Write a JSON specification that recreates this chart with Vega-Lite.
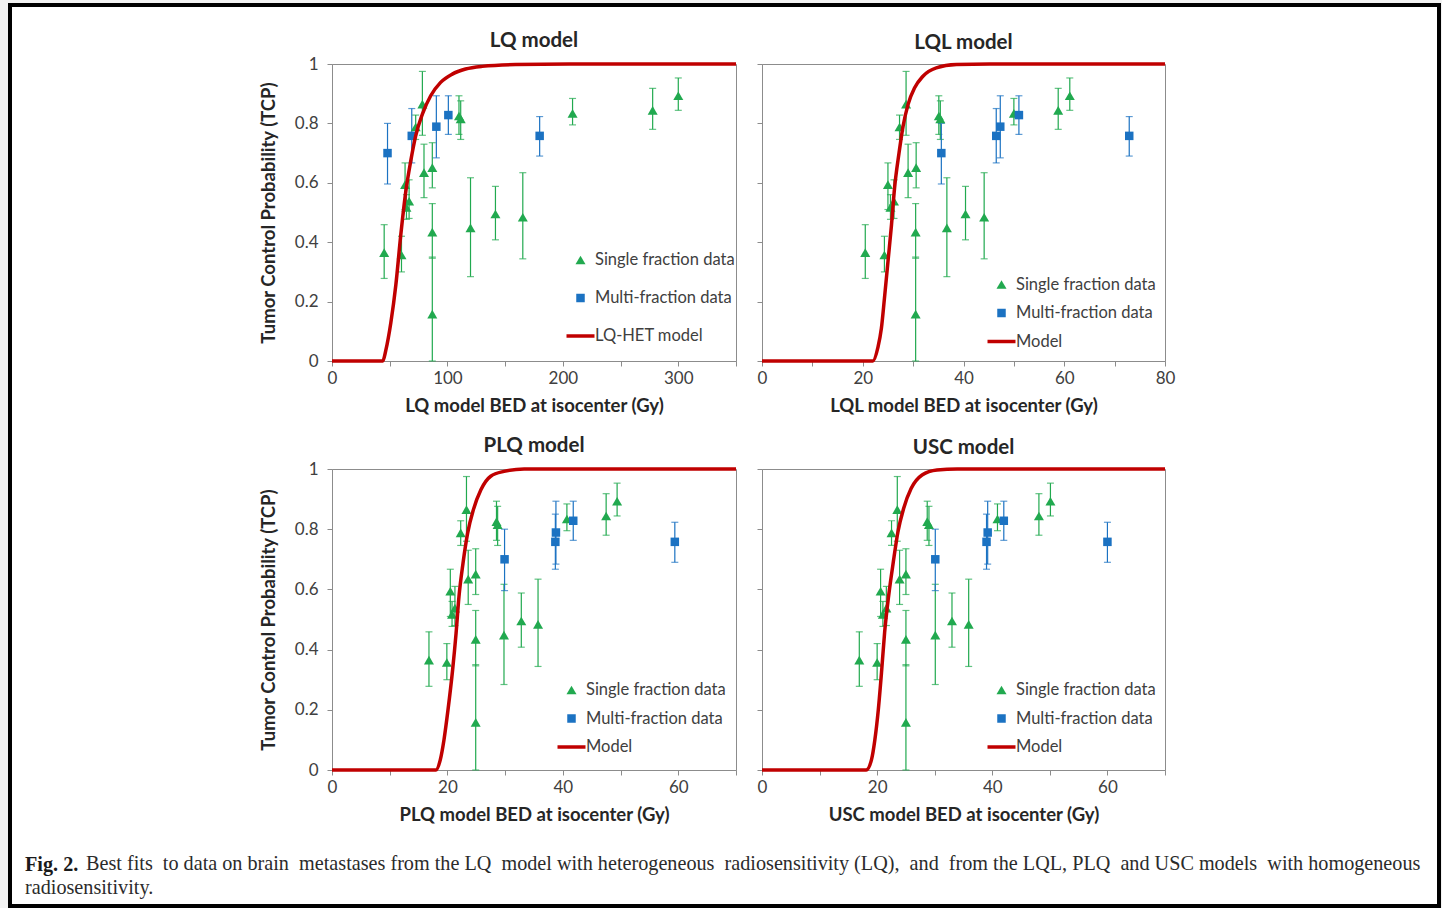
{
  "$schema": "https://vega.github.io/schema/vega-lite/v6.json",
  "autosize": {"type": "none"},
  "padding": {"left": 10, "top": 5, "right": 1432, "bottom": 903},
  "background": "#f2f2f2",
  "config": {
    "font": "Lato",
    "view": {"stroke": null},
    "axis": {"domainColor": "#8c8c8c", "tickColor": "#8c8c8c", "tickSize": 5, "grid": false, "labelFont": "Lato", "labelFontSize": 17, "labelColor": "#404040", "titleFont": "Lato", "titleFontSize": 18.5, "titleFontWeight": "bold", "titleColor": "#262626", "labelFlush": false, "labelOverlap": false},
    "axisX": {"labelPadding": 4, "titlePadding": 10},
    "axisY": {"labelPadding": 9, "titlePadding": 16},
    "title": {"font": "Lato", "fontSize": 20.5, "fontWeight": "bold", "color": "#262626", "offset": 4},
    "legend": {"padding": 0, "labelFont": "Lato", "labelFontSize": 16.5, "labelColor": "#404040", "labelOffset": 6.25, "symbolSize": 100, "symbolStrokeWidth": 0}
  },
  "datasets": {
    "pts": [
      {"type": "Single fraction data", "tcp": 0.365, "lo": 0.278, "hi": 0.459, "LQ": 45.2, "LQL": 20.5, "PLQ": 16.8, "USC": 16.9},
      {"type": "Single fraction data", "tcp": 0.357, "lo": 0.30, "hi": 0.42, "LQ": 60.2, "LQL": 24.3, "PLQ": 19.9, "USC": 20.0},
      {"type": "Single fraction data", "tcp": 0.594, "lo": 0.51, "hi": 0.667, "LQ": 63.3, "LQL": 25.0, "PLQ": 20.5, "USC": 20.6},
      {"type": "Single fraction data", "tcp": 0.517, "lo": 0.477, "hi": 0.56, "LQ": 64.5, "LQL": 25.5, "PLQ": 20.8, "USC": 21.0},
      {"type": "Single fraction data", "tcp": 0.538, "lo": 0.48, "hi": 0.61, "LQ": 66.8, "LQL": 26.2, "PLQ": 21.3, "USC": 21.6},
      {"type": "Single fraction data", "tcp": 0.788, "lo": 0.746, "hi": 0.828, "LQ": 72.5, "LQL": 27.3, "PLQ": 22.3, "USC": 22.5},
      {"type": "Single fraction data", "tcp": 0.865, "lo": 0.76, "hi": 0.975, "LQ": 78.3, "LQL": 28.6, "PLQ": 23.3, "USC": 23.5},
      {"type": "Single fraction data", "tcp": 0.634, "lo": 0.55, "hi": 0.73, "LQ": 79.7, "LQL": 29.0, "PLQ": 23.6, "USC": 23.9},
      {"type": "Single fraction data", "tcp": 0.651, "lo": 0.583, "hi": 0.735, "LQ": 86.9, "LQL": 30.6, "PLQ": 24.9, "USC": 25.0},
      {"type": "Single fraction data", "tcp": 0.434, "lo": 0.346, "hi": 0.53, "LQ": 86.9, "LQL": 30.5, "PLQ": 24.9, "USC": 25.0},
      {"type": "Single fraction data", "tcp": 0.158, "lo": 0, "hi": 0.35, "LQ": 86.9, "LQL": 30.5, "PLQ": 24.9, "USC": 25.0},
      {"type": "Single fraction data", "tcp": 0.825, "lo": 0.763, "hi": 0.893, "LQ": 110, "LQL": 35.1, "PLQ": 28.5, "USC": 28.7},
      {"type": "Single fraction data", "tcp": 0.815, "lo": 0.746, "hi": 0.876, "LQ": 111.5, "LQL": 35.4, "PLQ": 28.7, "USC": 29.0},
      {"type": "Single fraction data", "tcp": 0.448, "lo": 0.284, "hi": 0.617, "LQ": 120, "LQL": 36.7, "PLQ": 29.8, "USC": 30.1},
      {"type": "Single fraction data", "tcp": 0.495, "lo": 0.408, "hi": 0.588, "LQ": 141.6, "LQL": 40.4, "PLQ": 32.8, "USC": 33.0},
      {"type": "Single fraction data", "tcp": 0.484, "lo": 0.344, "hi": 0.634, "LQ": 165.3, "LQL": 44.1, "PLQ": 35.7, "USC": 35.9},
      {"type": "Single fraction data", "tcp": 0.834, "lo": 0.795, "hi": 0.884, "LQ": 208.4, "LQL": 50.0, "PLQ": 40.7, "USC": 40.9},
      {"type": "Single fraction data", "tcp": 0.844, "lo": 0.78, "hi": 0.918, "LQ": 277.8, "LQL": 58.8, "PLQ": 47.5, "USC": 48.1},
      {"type": "Single fraction data", "tcp": 0.893, "lo": 0.844, "hi": 0.953, "LQ": 300, "LQL": 61.1, "PLQ": 49.4, "USC": 50.1},
      {"type": "Multi-fraction data", "tcp": 0.70, "lo": 0.596, "hi": 0.80, "LQ": 48.1, "LQL": 35.6, "PLQ": 29.9, "USC": 30.1},
      {"type": "Multi-fraction data", "tcp": 0.758, "lo": 0.667, "hi": 0.85, "LQ": 69.1, "LQL": 46.5, "PLQ": 38.7, "USC": 39.0},
      {"type": "Multi-fraction data", "tcp": 0.789, "lo": 0.684, "hi": 0.893, "LQ": 90.4, "LQL": 47.3, "PLQ": 38.8, "USC": 39.2},
      {"type": "Multi-fraction data", "tcp": 0.828, "lo": 0.763, "hi": 0.893, "LQ": 100.8, "LQL": 51.0, "PLQ": 41.8, "USC": 42.0},
      {"type": "Multi-fraction data", "tcp": 0.758, "lo": 0.69, "hi": 0.823, "LQ": 179.9, "LQL": 72.9, "PLQ": 59.4, "USC": 60.0}
    ],
    "curves": [
      {"model": "LQ", "type": "LQ-HET model", "x": 0, "y": 0},
      {"model": "LQ", "type": "LQ-HET model", "x": 44, "y": 0},
      {"model": "LQ", "type": "LQ-HET model", "x": 46.6, "y": 0.036},
      {"model": "LQ", "type": "LQ-HET model", "x": 51, "y": 0.13},
      {"model": "LQ", "type": "LQ-HET model", "x": 55.3, "y": 0.256},
      {"model": "LQ", "type": "LQ-HET model", "x": 59.6, "y": 0.425},
      {"model": "LQ", "type": "LQ-HET model", "x": 63.9, "y": 0.57},
      {"model": "LQ", "type": "LQ-HET model", "x": 68.2, "y": 0.673},
      {"model": "LQ", "type": "LQ-HET model", "x": 72.5, "y": 0.758},
      {"model": "LQ", "type": "LQ-HET model", "x": 78.3, "y": 0.831},
      {"model": "LQ", "type": "LQ-HET model", "x": 85.5, "y": 0.893},
      {"model": "LQ", "type": "LQ-HET model", "x": 94.1, "y": 0.938},
      {"model": "LQ", "type": "LQ-HET model", "x": 104.2, "y": 0.966},
      {"model": "LQ", "type": "LQ-HET model", "x": 115.7, "y": 0.983},
      {"model": "LQ", "type": "LQ-HET model", "x": 130, "y": 0.992},
      {"model": "LQ", "type": "LQ-HET model", "x": 159, "y": 0.998},
      {"model": "LQ", "type": "LQ-HET model", "x": 216, "y": 1},
      {"model": "LQ", "type": "LQ-HET model", "x": 350, "y": 1},
      {"model": "LQL", "type": "Model", "x": 0, "y": 0},
      {"model": "LQL", "type": "Model", "x": 22, "y": 0},
      {"model": "LQL", "type": "Model", "x": 23, "y": 0.045},
      {"model": "LQL", "type": "Model", "x": 23.7, "y": 0.11},
      {"model": "LQL", "type": "Model", "x": 24.3, "y": 0.21},
      {"model": "LQL", "type": "Model", "x": 25, "y": 0.334},
      {"model": "LQL", "type": "Model", "x": 25.7, "y": 0.457},
      {"model": "LQL", "type": "Model", "x": 26.3, "y": 0.58},
      {"model": "LQL", "type": "Model", "x": 27.2, "y": 0.70},
      {"model": "LQL", "type": "Model", "x": 28, "y": 0.79},
      {"model": "LQL", "type": "Model", "x": 29, "y": 0.864},
      {"model": "LQL", "type": "Model", "x": 30.3, "y": 0.92},
      {"model": "LQL", "type": "Model", "x": 31.9, "y": 0.958},
      {"model": "LQL", "type": "Model", "x": 34.6, "y": 0.987},
      {"model": "LQL", "type": "Model", "x": 38.6, "y": 0.998},
      {"model": "LQL", "type": "Model", "x": 45.2, "y": 1},
      {"model": "LQL", "type": "Model", "x": 80, "y": 1},
      {"model": "PLQ", "type": "Model", "x": 0, "y": 0},
      {"model": "PLQ", "type": "Model", "x": 18, "y": 0},
      {"model": "PLQ", "type": "Model", "x": 18.75, "y": 0.033},
      {"model": "PLQ", "type": "Model", "x": 19.4, "y": 0.10},
      {"model": "PLQ", "type": "Model", "x": 20.1, "y": 0.20},
      {"model": "PLQ", "type": "Model", "x": 20.9, "y": 0.333},
      {"model": "PLQ", "type": "Model", "x": 21.5, "y": 0.455},
      {"model": "PLQ", "type": "Model", "x": 22, "y": 0.576},
      {"model": "PLQ", "type": "Model", "x": 22.7, "y": 0.687},
      {"model": "PLQ", "type": "Model", "x": 23.5, "y": 0.787},
      {"model": "PLQ", "type": "Model", "x": 24.5, "y": 0.865},
      {"model": "PLQ", "type": "Model", "x": 25.8, "y": 0.931},
      {"model": "PLQ", "type": "Model", "x": 27.5, "y": 0.976},
      {"model": "PLQ", "type": "Model", "x": 29.8, "y": 0.992},
      {"model": "PLQ", "type": "Model", "x": 33.3, "y": 1},
      {"model": "PLQ", "type": "Model", "x": 70, "y": 1},
      {"model": "USC", "type": "Model", "x": 0, "y": 0},
      {"model": "USC", "type": "Model", "x": 18.1, "y": 0},
      {"model": "USC", "type": "Model", "x": 19, "y": 0.033},
      {"model": "USC", "type": "Model", "x": 19.6, "y": 0.10},
      {"model": "USC", "type": "Model", "x": 20.2, "y": 0.20},
      {"model": "USC", "type": "Model", "x": 20.8, "y": 0.334},
      {"model": "USC", "type": "Model", "x": 21.3, "y": 0.457},
      {"model": "USC", "type": "Model", "x": 22, "y": 0.579},
      {"model": "USC", "type": "Model", "x": 22.8, "y": 0.69},
      {"model": "USC", "type": "Model", "x": 23.6, "y": 0.79},
      {"model": "USC", "type": "Model", "x": 24.6, "y": 0.869},
      {"model": "USC", "type": "Model", "x": 25.9, "y": 0.935},
      {"model": "USC", "type": "Model", "x": 27.8, "y": 0.98},
      {"model": "USC", "type": "Model", "x": 30.4, "y": 0.997},
      {"model": "USC", "type": "Model", "x": 33.9, "y": 1},
      {"model": "USC", "type": "Model", "x": 70, "y": 1}
    ]
  },
  "bounds": "flush",
  "spacing": 0,
  "hconcat": [
    {
      "bounds": "flush",
      "vconcat": [
        {
          "width": 1429,
          "height": 901,
          "view": {"stroke": "#000000", "strokeWidth": 4, "fill": "#ffffff"},
          "data": {"values": [{}]},
          "mark": {"type": "text", "text": ""},
          "title": {
            "text": "Fig. 2.",
            "subtitle": "radiosensitivity.",
            "orient": "bottom",
            "anchor": "start",
            "frame": "group",
            "offset": -51,
            "dx": 15,
            "font": "Liberation Serif",
            "fontSize": 20.2,
            "fontWeight": "bold",
            "color": "#1a1a1a",
            "subtitleFont": "Liberation Serif",
            "subtitleFontSize": 20.2,
            "subtitleFontWeight": "normal",
            "subtitleColor": "#2b2b2b",
            "subtitlePadding": 2.3
          }
        }
      ]
    },
    {
      "width": 322, "height": 1,
      "data": {"values": [{}]},
      "mark": {"type": "text", "text": ""},
      "view": {"stroke": null},
      "title": {
        "text": "Best fits \u00a0to data on brain \u00a0metastases from the LQ \u00a0model with heterogeneous \u00a0radiosensitivity (LQ), \u00a0and \u00a0from the LQL, PLQ \u00a0and USC models \u00a0with homogeneous",
        "orient": "bottom",
        "anchor": "start",
        "frame": "group",
        "offset": 843.5,
        "dx": 76,
        "font": "Liberation Serif",
        "fontSize": 20.2,
        "fontWeight": "normal",
        "color": "#2b2b2b"
      }
    },
    {
      "bounds": "flush",
      "spacing": 58,
      "vconcat": [
        {"width": 1, "height": 1, "data": {"values": [{}]}, "mark": {"type": "text", "text": ""}, "view": {"stroke": null}},
        {
          "bounds": "flush",
          "columns": 2,
          "spacing": {"row": 108, "column": 26},
          "resolve": {"scale": {"color": "independent", "shape": "independent"}, "legend": {"color": "independent", "shape": "independent"}},
          "concat": [
            {
              "width": 404, "height": 297,
              "title": "LQ model",
              "view": {"stroke": "#8c8c8c", "strokeWidth": 1},
              "layer": [
                {"data": {"name": "pts"}, "transform": [{"filter": "datum.type === 'Single fraction data'"}],
                 "mark": {"type": "errorbar", "ticks": true, "color": "#21a94f", "thickness": 1.2, "size": 7},
                 "encoding": {
                   "x": {"field": "LQ", "type": "quantitative", "scale": {"domain": [0, 350], "nice": false}, "axis": {"title": "LQ model BED at isocenter (Gy)", "values": [0, 50, 100, 150, 200, 250, 300, 350], "labelExpr": "datum.value % 100 === 0 ? datum.label : ''"}},
                   "y": {"field": "lo", "type": "quantitative", "scale": {"domain": [0, 1], "nice": false}, "axis": {"title": "Tumor Control Probability (TCP)", "values": [0, 0.1, 0.2, 0.3, 0.4, 0.5, 0.6, 0.7, 0.8, 0.9, 1], "labelExpr": "round(datum.value * 10) % 2 === 0 ? format(datum.value, '.1~f') : ''"}},
                   "y2": {"field": "hi"}}},
                {"data": {"name": "pts"}, "transform": [{"filter": "datum.type === 'Multi-fraction data'"}],
                 "mark": {"type": "errorbar", "ticks": true, "color": "#1b72c2", "thickness": 1.2, "size": 7},
                 "encoding": {
                   "x": {"field": "LQ", "type": "quantitative", "axis": {"title": "LQ model BED at isocenter (Gy)", "values": [0, 50, 100, 150, 200, 250, 300, 350], "labelExpr": "datum.value % 100 === 0 ? datum.label : ''"}},
                   "y": {"field": "lo", "type": "quantitative", "axis": {"title": "Tumor Control Probability (TCP)", "values": [0, 0.1, 0.2, 0.3, 0.4, 0.5, 0.6, 0.7, 0.8, 0.9, 1], "labelExpr": "round(datum.value * 10) % 2 === 0 ? format(datum.value, '.1~f') : ''"}},
                   "y2": {"field": "hi"}}},
                {"data": {"name": "pts"}, "transform": [{"filter": "datum.type === 'Single fraction data'"}],
                 "mark": {"type": "point", "filled": true, "opacity": 1, "size": 100},
                 "encoding": {"x": {"field": "LQ", "type": "quantitative"}, "y": {"field": "tcp", "type": "quantitative"},
                   "color": {"field": "type", "type": "nominal", "scale": {"domain": ["Single fraction data", "Multi-fraction data", "LQ-HET model"], "range": ["#21a94f", "#1b72c2", "#c00000"]}, "legend": {"title": null, "orient": "none", "legendX": 240.25, "legendY": 187.75, "rowPadding": 21, "encode": {"symbols": {"update": {"fill": {"signal": "(datum.value === 'Single fraction data' ? '#21a94f' : datum.value === 'Multi-fraction data' ? '#1b72c2' : '#c00000')"}, "strokeWidth": {"value": 0}, "opacity": {"value": 1}}}}}},
                   "shape": {"field": "type", "type": "nominal", "scale": {"domain": ["Single fraction data", "Multi-fraction data", "LQ-HET model"], "range": ["triangle-up", "M-0.85,-0.85H0.85V0.85H-0.85Z", "M-2.8,-0.35H2.8V0.35H-2.8Z"]}, "legend": {"title": null, "orient": "none", "legendX": 240.25, "legendY": 187.75, "rowPadding": 21, "encode": {"symbols": {"update": {"fill": {"signal": "(datum.value === 'Single fraction data' ? '#21a94f' : datum.value === 'Multi-fraction data' ? '#1b72c2' : '#c00000')"}, "strokeWidth": {"value": 0}, "opacity": {"value": 1}}}}}}}},
                {"data": {"name": "pts"}, "transform": [{"filter": "datum.type === 'Multi-fraction data'"}],
                 "mark": {"type": "point", "filled": true, "opacity": 1, "size": 100},
                 "encoding": {"x": {"field": "LQ", "type": "quantitative"}, "y": {"field": "tcp", "type": "quantitative"},
                   "color": {"field": "type", "type": "nominal"},
                   "shape": {"field": "type", "type": "nominal"}}},
                {"data": {"name": "curves"}, "transform": [{"filter": "datum.model === 'LQ'"}],
                 "mark": {"type": "line", "strokeWidth": 3.5, "interpolate": "monotone"},
                 "encoding": {"x": {"field": "x", "type": "quantitative"}, "y": {"field": "y", "type": "quantitative"}, "color": {"field": "type", "type": "nominal"}}}
              ]
            },
            {
              "width": 403, "height": 297,
              "title": "LQL model",
              "view": {"stroke": "#8c8c8c", "strokeWidth": 1},
              "layer": [
                {"data": {"name": "pts"}, "transform": [{"filter": "datum.type === 'Single fraction data'"}],
                 "mark": {"type": "errorbar", "ticks": true, "color": "#21a94f", "thickness": 1.2, "size": 7},
                 "encoding": {
                   "x": {"field": "LQL", "type": "quantitative", "scale": {"domain": [0, 80], "nice": false}, "axis": {"title": "LQL model BED at isocenter (Gy)", "values": [0, 10, 20, 30, 40, 50, 60, 70, 80], "labelExpr": "datum.value % 20 === 0 ? datum.label : ''"}},
                   "y": {"field": "lo", "type": "quantitative", "scale": {"domain": [0, 1], "nice": false}, "axis": {"title": null, "values": [0, 0.1, 0.2, 0.3, 0.4, 0.5, 0.6, 0.7, 0.8, 0.9, 1], "labels": false}},
                   "y2": {"field": "hi"}}},
                {"data": {"name": "pts"}, "transform": [{"filter": "datum.type === 'Multi-fraction data'"}],
                 "mark": {"type": "errorbar", "ticks": true, "color": "#1b72c2", "thickness": 1.2, "size": 7},
                 "encoding": {
                   "x": {"field": "LQL", "type": "quantitative", "axis": {"title": "LQL model BED at isocenter (Gy)", "values": [0, 10, 20, 30, 40, 50, 60, 70, 80], "labelExpr": "datum.value % 20 === 0 ? datum.label : ''"}},
                   "y": {"field": "lo", "type": "quantitative", "axis": {"title": null, "values": [0, 0.1, 0.2, 0.3, 0.4, 0.5, 0.6, 0.7, 0.8, 0.9, 1], "labels": false}},
                   "y2": {"field": "hi"}}},
                {"data": {"name": "pts"}, "transform": [{"filter": "datum.type === 'Single fraction data'"}],
                 "mark": {"type": "point", "filled": true, "opacity": 1, "size": 100},
                 "encoding": {"x": {"field": "LQL", "type": "quantitative"}, "y": {"field": "tcp", "type": "quantitative"},
                   "color": {"field": "type", "type": "nominal", "scale": {"domain": ["Single fraction data", "Multi-fraction data", "Model"], "range": ["#21a94f", "#1b72c2", "#c00000"]}, "legend": {"title": null, "orient": "none", "legendX": 231.25, "legendY": 212.25, "rowPadding": 11.5, "encode": {"symbols": {"update": {"fill": {"signal": "(datum.value === 'Single fraction data' ? '#21a94f' : datum.value === 'Multi-fraction data' ? '#1b72c2' : '#c00000')"}, "strokeWidth": {"value": 0}, "opacity": {"value": 1}}}}}},
                   "shape": {"field": "type", "type": "nominal", "scale": {"domain": ["Single fraction data", "Multi-fraction data", "Model"], "range": ["triangle-up", "M-0.85,-0.85H0.85V0.85H-0.85Z", "M-2.8,-0.35H2.8V0.35H-2.8Z"]}, "legend": {"title": null, "orient": "none", "legendX": 231.25, "legendY": 212.25, "rowPadding": 11.5, "encode": {"symbols": {"update": {"fill": {"signal": "(datum.value === 'Single fraction data' ? '#21a94f' : datum.value === 'Multi-fraction data' ? '#1b72c2' : '#c00000')"}, "strokeWidth": {"value": 0}, "opacity": {"value": 1}}}}}}}},
                {"data": {"name": "pts"}, "transform": [{"filter": "datum.type === 'Multi-fraction data'"}],
                 "mark": {"type": "point", "filled": true, "opacity": 1, "size": 100},
                 "encoding": {"x": {"field": "LQL", "type": "quantitative"}, "y": {"field": "tcp", "type": "quantitative"},
                   "color": {"field": "type", "type": "nominal"},
                   "shape": {"field": "type", "type": "nominal"}}},
                {"data": {"name": "curves"}, "transform": [{"filter": "datum.model === 'LQL'"}],
                 "mark": {"type": "line", "strokeWidth": 3.5, "interpolate": "monotone"},
                 "encoding": {"x": {"field": "x", "type": "quantitative"}, "y": {"field": "y", "type": "quantitative"}, "color": {"field": "type", "type": "nominal"}}}
              ]
            },
            {
              "width": 404, "height": 301,
              "title": "PLQ model",
              "view": {"stroke": "#8c8c8c", "strokeWidth": 1},
              "layer": [
                {"data": {"name": "pts"}, "transform": [{"filter": "datum.type === 'Single fraction data'"}],
                 "mark": {"type": "errorbar", "ticks": true, "color": "#21a94f", "thickness": 1.2, "size": 7},
                 "encoding": {
                   "x": {"field": "PLQ", "type": "quantitative", "scale": {"domain": [0, 70], "nice": false}, "axis": {"title": "PLQ model BED at isocenter (Gy)", "values": [0, 10, 20, 30, 40, 50, 60, 70], "labelExpr": "datum.value % 20 === 0 ? datum.label : ''"}},
                   "y": {"field": "lo", "type": "quantitative", "scale": {"domain": [0, 1], "nice": false}, "axis": {"title": "Tumor Control Probability (TCP)", "values": [0, 0.1, 0.2, 0.3, 0.4, 0.5, 0.6, 0.7, 0.8, 0.9, 1], "labelExpr": "round(datum.value * 10) % 2 === 0 ? format(datum.value, '.1~f') : ''"}},
                   "y2": {"field": "hi"}}},
                {"data": {"name": "pts"}, "transform": [{"filter": "datum.type === 'Multi-fraction data'"}],
                 "mark": {"type": "errorbar", "ticks": true, "color": "#1b72c2", "thickness": 1.2, "size": 7},
                 "encoding": {
                   "x": {"field": "PLQ", "type": "quantitative", "axis": {"title": "PLQ model BED at isocenter (Gy)", "values": [0, 10, 20, 30, 40, 50, 60, 70], "labelExpr": "datum.value % 20 === 0 ? datum.label : ''"}},
                   "y": {"field": "lo", "type": "quantitative", "axis": {"title": "Tumor Control Probability (TCP)", "values": [0, 0.1, 0.2, 0.3, 0.4, 0.5, 0.6, 0.7, 0.8, 0.9, 1], "labelExpr": "round(datum.value * 10) % 2 === 0 ? format(datum.value, '.1~f') : ''"}},
                   "y2": {"field": "hi"}}},
                {"data": {"name": "pts"}, "transform": [{"filter": "datum.type === 'Single fraction data'"}],
                 "mark": {"type": "point", "filled": true, "opacity": 1, "size": 100},
                 "encoding": {"x": {"field": "PLQ", "type": "quantitative"}, "y": {"field": "tcp", "type": "quantitative"},
                   "color": {"field": "type", "type": "nominal", "scale": {"domain": ["Single fraction data", "Multi-fraction data", "Model"], "range": ["#21a94f", "#1b72c2", "#c00000"]}, "legend": {"title": null, "orient": "none", "legendX": 231.25, "legendY": 212.75, "rowPadding": 11.5, "encode": {"symbols": {"update": {"fill": {"signal": "(datum.value === 'Single fraction data' ? '#21a94f' : datum.value === 'Multi-fraction data' ? '#1b72c2' : '#c00000')"}, "strokeWidth": {"value": 0}, "opacity": {"value": 1}}}}}},
                   "shape": {"field": "type", "type": "nominal", "scale": {"domain": ["Single fraction data", "Multi-fraction data", "Model"], "range": ["triangle-up", "M-0.85,-0.85H0.85V0.85H-0.85Z", "M-2.8,-0.35H2.8V0.35H-2.8Z"]}, "legend": {"title": null, "orient": "none", "legendX": 231.25, "legendY": 212.75, "rowPadding": 11.5, "encode": {"symbols": {"update": {"fill": {"signal": "(datum.value === 'Single fraction data' ? '#21a94f' : datum.value === 'Multi-fraction data' ? '#1b72c2' : '#c00000')"}, "strokeWidth": {"value": 0}, "opacity": {"value": 1}}}}}}}},
                {"data": {"name": "pts"}, "transform": [{"filter": "datum.type === 'Multi-fraction data'"}],
                 "mark": {"type": "point", "filled": true, "opacity": 1, "size": 100},
                 "encoding": {"x": {"field": "PLQ", "type": "quantitative"}, "y": {"field": "tcp", "type": "quantitative"},
                   "color": {"field": "type", "type": "nominal"},
                   "shape": {"field": "type", "type": "nominal"}}},
                {"data": {"name": "curves"}, "transform": [{"filter": "datum.model === 'PLQ'"}],
                 "mark": {"type": "line", "strokeWidth": 3.5, "interpolate": "monotone"},
                 "encoding": {"x": {"field": "x", "type": "quantitative"}, "y": {"field": "y", "type": "quantitative"}, "color": {"field": "type", "type": "nominal"}}}
              ]
            },
            {
              "width": 403, "height": 301,
              "title": "USC model",
              "view": {"stroke": "#8c8c8c", "strokeWidth": 1},
              "layer": [
                {"data": {"name": "pts"}, "transform": [{"filter": "datum.type === 'Single fraction data'"}],
                 "mark": {"type": "errorbar", "ticks": true, "color": "#21a94f", "thickness": 1.2, "size": 7},
                 "encoding": {
                   "x": {"field": "USC", "type": "quantitative", "scale": {"domain": [0, 70], "nice": false}, "axis": {"title": "USC model BED at isocenter (Gy)", "values": [0, 10, 20, 30, 40, 50, 60, 70], "labelExpr": "datum.value % 20 === 0 ? datum.label : ''"}},
                   "y": {"field": "lo", "type": "quantitative", "scale": {"domain": [0, 1], "nice": false}, "axis": {"title": null, "values": [0, 0.1, 0.2, 0.3, 0.4, 0.5, 0.6, 0.7, 0.8, 0.9, 1], "labels": false}},
                   "y2": {"field": "hi"}}},
                {"data": {"name": "pts"}, "transform": [{"filter": "datum.type === 'Multi-fraction data'"}],
                 "mark": {"type": "errorbar", "ticks": true, "color": "#1b72c2", "thickness": 1.2, "size": 7},
                 "encoding": {
                   "x": {"field": "USC", "type": "quantitative", "axis": {"title": "USC model BED at isocenter (Gy)", "values": [0, 10, 20, 30, 40, 50, 60, 70], "labelExpr": "datum.value % 20 === 0 ? datum.label : ''"}},
                   "y": {"field": "lo", "type": "quantitative", "axis": {"title": null, "values": [0, 0.1, 0.2, 0.3, 0.4, 0.5, 0.6, 0.7, 0.8, 0.9, 1], "labels": false}},
                   "y2": {"field": "hi"}}},
                {"data": {"name": "pts"}, "transform": [{"filter": "datum.type === 'Single fraction data'"}],
                 "mark": {"type": "point", "filled": true, "opacity": 1, "size": 100},
                 "encoding": {"x": {"field": "USC", "type": "quantitative"}, "y": {"field": "tcp", "type": "quantitative"},
                   "color": {"field": "type", "type": "nominal", "scale": {"domain": ["Single fraction data", "Multi-fraction data", "Model"], "range": ["#21a94f", "#1b72c2", "#c00000"]}, "legend": {"title": null, "orient": "none", "legendX": 231.25, "legendY": 212.75, "rowPadding": 11.5, "encode": {"symbols": {"update": {"fill": {"signal": "(datum.value === 'Single fraction data' ? '#21a94f' : datum.value === 'Multi-fraction data' ? '#1b72c2' : '#c00000')"}, "strokeWidth": {"value": 0}, "opacity": {"value": 1}}}}}},
                   "shape": {"field": "type", "type": "nominal", "scale": {"domain": ["Single fraction data", "Multi-fraction data", "Model"], "range": ["triangle-up", "M-0.85,-0.85H0.85V0.85H-0.85Z", "M-2.8,-0.35H2.8V0.35H-2.8Z"]}, "legend": {"title": null, "orient": "none", "legendX": 231.25, "legendY": 212.75, "rowPadding": 11.5, "encode": {"symbols": {"update": {"fill": {"signal": "(datum.value === 'Single fraction data' ? '#21a94f' : datum.value === 'Multi-fraction data' ? '#1b72c2' : '#c00000')"}, "strokeWidth": {"value": 0}, "opacity": {"value": 1}}}}}}}},
                {"data": {"name": "pts"}, "transform": [{"filter": "datum.type === 'Multi-fraction data'"}],
                 "mark": {"type": "point", "filled": true, "opacity": 1, "size": 100},
                 "encoding": {"x": {"field": "USC", "type": "quantitative"}, "y": {"field": "tcp", "type": "quantitative"},
                   "color": {"field": "type", "type": "nominal"},
                   "shape": {"field": "type", "type": "nominal"}}},
                {"data": {"name": "curves"}, "transform": [{"filter": "datum.model === 'USC'"}],
                 "mark": {"type": "line", "strokeWidth": 3.5, "interpolate": "monotone"},
                 "encoding": {"x": {"field": "x", "type": "quantitative"}, "y": {"field": "y", "type": "quantitative"}, "color": {"field": "type", "type": "nominal"}}}
              ]
            }
          ]
        }
      ]
    }
  ]
}
